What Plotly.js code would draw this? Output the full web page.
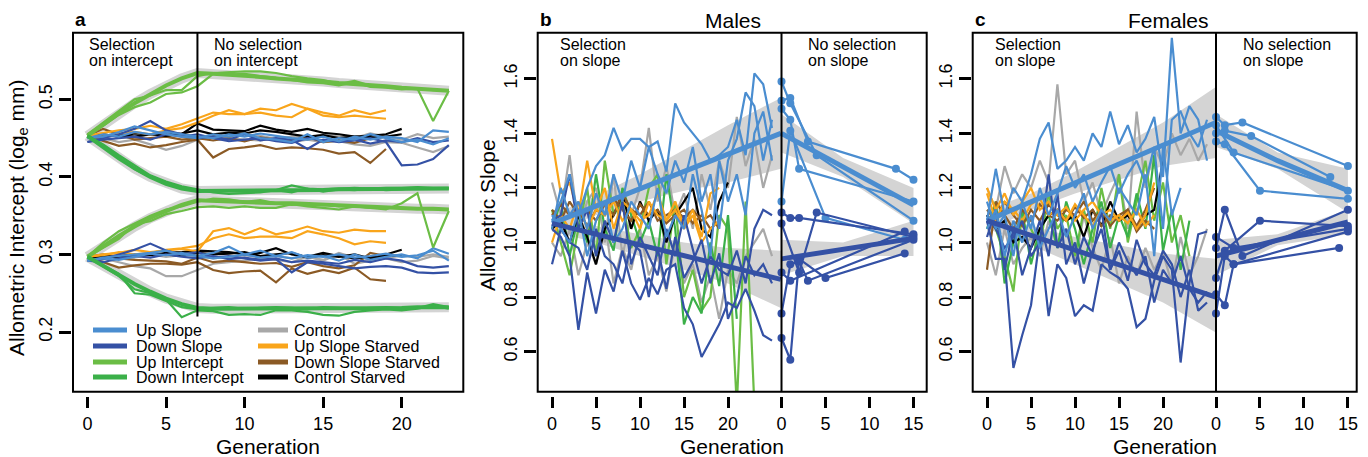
<!DOCTYPE html>
<html><head><meta charset="utf-8">
<script src="https://cdn.plot.ly/plotly-3.0.1.min.js"></script>
<style>html,body{margin:0;padding:0;background:#fff;}#chart{width:1368px;height:457px;}</style>
</head><body><div id="chart"></div>
<script>
// ---------- categories / colours ----------
const seriesNames = ['Up Slope','Down Slope','Up Intercept','Down Intercept','Control','Up Slope Starved','Down Slope Starved','Control Starved'];
const seriesColors = ['#4a8dd0','#3451a5','#6bbd45','#3bb049','#a8a8a8','#f9a51b','#8b5a25','#000000'];
const C = {US:seriesColors[0],DS:seriesColors[1],UI:seriesColors[2],DI:seriesColors[3],CT:seriesColors[4],USS:seriesColors[5],DSS:seriesColors[6],CS:seriesColors[7]};

// ---------- tick labels ----------
const aXTicks = [0,5,10,15,20];
const aYTicks = [0.2,0.3,0.4,0.5];
const aYTickText = ['0.2','0.3','0.4','0.5'];
const selTicks = [0,5,10,15,20];
const relTicks = [0,5,10,15];
const bcYTicks = [0.6,0.8,1.0,1.2,1.4,1.6];
const bcYTickText = ['0.6','0.8','1.0','1.2','1.4','1.6'];

// ---------- panel a : generations ----------
const genA = [0,1,2,3,4,5,6,7,8,9,10,11,12,13,14,15,16,17,18,19,20,21,22,23];

// top group (intercept ~0.45)
const aTopUpFit = [.453,.468,.482,.495,.507,.518,.527,.534,.533,.532,.530,.529,.527,.526,.524,.523,.521,.520,.518,.517,.515,.514,.512,.511];
const aTopUp1   = [.455,.470,.485,.500,.505,.512,.512,.530,.534,.535,.536,.536,.534,.530,.527,.525,.520,.524,.518,.516,.515,.514,.512,.512];
const aTopUp2   = [.455,.466,.480,.490,.496,.507,.509,.517,.533,.532,.533,.530,.528,.525,.522,.521,.518,.522,.516,.515,.513,.514,.472,.511];
const aTopDnFit = [.453,.438,.424,.411,.400,.391,.385,.382,.382,.382,.382,.383,.383,.383,.383,.383,.384,.384,.384,.384,.385,.385,.385,.385];
const aTopDn1   = [.453,.440,.425,.410,.400,.392,.386,.383,.383,.382,.381,.383,.383,.389,.385,.384,.385,.386,.385,.386,.386,.387,.386,.386];
const aTopDn2   = [.453,.442,.428,.415,.402,.394,.388,.384,.380,.378,.379,.380,.383,.380,.385,.381,.384,.383,.385,.383,.384,.386,.385,.385];
const aTopUS1  = [.450,.452,.458,.465,.460,.455,.452,.450,.455,.452,.456,.450,.448,.445,.455,.445,.450,.448,.455,.450,.445,.448,.442,.450];
const aTopUS2  = [.450,.455,.452,.458,.455,.458,.455,.452,.450,.455,.452,.456,.453,.450,.448,.452,.446,.452,.448,.452,.450,.445,.460,.458];
const aTopDS1  = [.445,.450,.455,.462,.472,.460,.455,.450,.452,.448,.455,.447,.450,.448,.436,.448,.445,.447,.450,.445,.415,.416,.423,.441];
const aTopDS2  = [.445,.448,.450,.452,.448,.455,.452,.455,.450,.446,.448,.450,.446,.444,.450,.447,.446,.448,.443,.447,.445,.450,.445,.447];
const aTopCT1  = [.453,.450,.445,.448,.442,.435,.440,.448,.452,.450,.448,.447,.450,.445,.448,.445,.446,.442,.440,.445,.444,.438,.432,.440];
const aTopCT2  = [.453,.455,.452,.450,.455,.452,.456,.451,.454,.452,.455,.453,.449,.452,.450,.455,.452,.450,.456,.452,.448,.455,.450,.452];
const aTopUSS1 = [.453,.457,.460,.462,.466,.462,.468,.475,.483,.481,.481,.488,.486,.494,.488,.483,.479,.486,.481,.486];
const aTopUSS2 = [.453,.452,.456,.458,.455,.460,.463,.470,.479,.486,.481,.483,.479,.477,.488,.479,.477,.479,.477,.475];
const aTopDSS1 = [.453,.447,.440,.443,.438,.441,.445,.448,.425,.436,.438,.441,.436,.438,.437,.435,.430,.432,.418,.436];
const aTopDSS2 = [.453,.462,.455,.448,.450,.452,.448,.450,.447,.450,.446,.451,.448,.447,.452,.445,.447,.444,.450,.452];
const aTopCS1  = [.453,.455,.452,.456,.455,.458,.455,.469,.461,.460,.459,.466,.461,.458,.462,.457,.455,.452,.453,.455,.462];
const aTopCS2  = [.453,.452,.454,.452,.455,.453,.456,.460,.455,.457,.456,.460,.458,.455,.452,.454,.450,.452,.450,.452,.455];

// bottom group (intercept ~0.30)
const aBotUpFit = [.297,.311,.324,.336,.347,.356,.364,.370,.369,.369,.368,.367,.366,.366,.365,.364,.363,.362,.362,.361,.360,.359,.359,.358];
const aBotUp1   = [.297,.308,.320,.339,.343,.352,.356,.361,.362,.360,.362,.360,.360,.365,.362,.360,.358,.362,.360,.358,.366,.379,.309,.356];
const aBotUp2   = [.297,.315,.330,.340,.350,.358,.362,.368,.372,.371,.368,.370,.366,.364,.365,.365,.362,.363,.360,.361,.360,.359,.358,.358];
const aBotDnFit = [.297,.285,.273,.262,.252,.243,.236,.231,.230,.230,.230,.230,.230,.230,.230,.230,.231,.231,.231,.231,.231,.232,.232,.232];
const aBotDn1   = [.297,.284,.272,.255,.250,.242,.219,.228,.227,.222,.223,.222,.228,.228,.226,.222,.221,.226,.228,.229,.228,.230,.234,.230];
const aBotDn2   = [.297,.286,.275,.250,.248,.240,.232,.229,.231,.232,.230,.231,.232,.231,.229,.232,.231,.230,.231,.232,.231,.231,.236,.232];
const aBotUS1  = [.292,.296,.298,.300,.302,.305,.300,.298,.302,.310,.300,.305,.298,.303,.296,.298,.292,.300,.293,.297,.300,.295,.308,.301];
const aBotUS2  = [.292,.295,.293,.297,.301,.299,.302,.298,.295,.297,.300,.296,.298,.295,.299,.297,.300,.296,.298,.301,.297,.299,.305,.292];
const aBotDS1  = [.292,.294,.300,.306,.314,.305,.300,.303,.296,.298,.295,.292,.294,.277,.290,.288,.285,.282,.284,.285,.283,.277,.276,.277];
const aBotDS2  = [.292,.290,.295,.298,.296,.300,.297,.295,.298,.294,.296,.293,.295,.290,.292,.290,.288,.293,.290,.295,.292,.285,.283,.285];
const aBotCT1  = [.297,.295,.290,.285,.282,.272,.272,.280,.288,.290,.292,.295,.293,.290,.297,.292,.300,.288,.292,.295,.290,.292,.298,.295];
const aBotCT2  = [.297,.298,.299,.296,.300,.297,.299,.298,.295,.297,.299,.296,.298,.295,.297,.293,.302,.296,.294,.296,.298,.297,.300,.297];
const aBotUSS1 = [.297,.300,.302,.306,.303,.305,.307,.304,.330,.334,.326,.334,.326,.330,.336,.330,.328,.332,.330,.330];
const aBotUSS2 = [.297,.299,.303,.300,.302,.306,.308,.311,.321,.326,.321,.323,.323,.321,.330,.326,.321,.313,.317,.315];
const aBotDSS1 = [.297,.290,.283,.286,.288,.288,.287,.290,.280,.276,.278,.279,.264,.282,.275,.280,.276,.283,.268,.266];
const aBotDSS2 = [.297,.300,.295,.293,.292,.291,.288,.296,.290,.292,.290,.288,.289,.284,.290,.285,.282,.286,.302,.298];
const aBotCS1  = [.297,.296,.298,.300,.299,.302,.303,.305,.304,.303,.300,.302,.308,.300,.297,.302,.298,.295,.297,.300,.306];
const aBotCS2  = [.297,.298,.296,.299,.301,.300,.298,.302,.300,.301,.303,.298,.300,.302,.296,.299,.297,.300,.295,.298,.299];

// ---------- panel b (males) ----------
const genSel = [0,1,2,3,4,5,6,7,8,9,10,11,12,13,14,15,16,17,18,19,20,21,22,23,24,25];
const bUS1 = [1.08,1.15,1.25,1.10,1.20,1.28,1.32,1.42,1.34,1.38,1.38,1.35,1.37,1.26,1.51,1.44,1.40,1.36,1.30,1.32,1.35,1.45,1.32,1.62,1.58,1.42];
const bUS2 = [1.05,1.20,1.10,1.15,1.05,1.18,1.10,1.25,1.15,1.30,1.20,1.35,1.25,1.18,1.30,1.22,1.35,1.15,1.25,1.05,1.30,1.38,1.55,1.50,1.30,1.45];
const bUS3 = [1.10,1.05,1.00,1.12,0.95,1.08,1.15,1.00,1.05,1.15,1.10,1.05,1.20,1.02,1.10,1.05,1.25,1.12,0.95,1.30,1.15,1.25,1.10,1.40,1.48,1.30];
const bDS1 = [1.05,1.02,0.95,0.68,0.89,0.74,0.90,0.82,0.97,0.85,0.79,0.87,0.81,0.90,0.92,0.76,0.70,0.58,0.64,0.70,0.78,0.76,0.83,0.75,0.66,0.64];
const bDS2 = [1.08,1.10,1.25,1.05,1.12,0.95,1.08,1.00,1.15,0.92,1.02,0.95,0.88,1.05,0.95,1.10,0.98,0.85,0.95,0.90,0.88,0.97,0.85,1.05,1.12,1.10];
const bDS3 = [0.92,1.05,1.00,0.98,0.90,1.05,0.95,0.92,0.85,1.00,0.97,0.80,0.98,0.83,1.02,0.87,0.93,1.01,0.85,0.96,0.72,0.80,0.95,0.88,0.92,0.85];
const bUI1 = [1.12,1.00,0.88,1.05,1.20,0.95,1.30,1.10,1.15,0.98,1.05,1.20,1.25,0.92,1.15,0.80,0.90,0.75,0.80,1.10,1.05,0.40,1.15,0.40];
const bDI1 = [1.05,1.15,0.95,1.10,1.00,1.25,1.05,0.97,1.20,1.10,1.00,1.08,0.95,1.25,1.05,0.70,0.80,0.74,1.00,0.84,1.10,0.72];
const bCT1 = [1.22,1.10,1.32,1.05,1.15,1.20,1.00,1.25,0.95,1.10,1.20,1.42,1.15,1.28,1.10,1.18,1.05,1.25,1.12,1.30,1.20,1.46,1.28,1.38,1.20,1.32];
const bCT2 = [1.00,0.95,1.05,0.88,1.00,0.92,1.08,0.85,0.98,0.90,1.05,0.88,0.95,0.82,1.00,0.85,0.92,0.78,0.88,0.72,0.90,0.85,0.95,1.00,1.05,0.95];
const bUSS1 = [1.38,1.18,1.22,1.10,1.30,1.12,1.20,1.05,1.15,1.12,1.08,1.10,1.18,1.08,1.15,1.06,1.12,1.02,1.18,1.20];
const bUSS2 = [1.00,1.10,1.05,1.15,1.05,1.12,1.10,1.15,1.08,1.12,1.05,1.15,1.10,1.08,1.12,1.05,1.10,1.00,1.05,1.08];
const bDSS1 = [1.12,1.08,1.15,1.10,1.12,1.08,1.14,1.10,1.18,1.12,1.10,1.15,1.08,1.10,1.12,1.09,1.12,1.08,1.10,1.05];
const bDSS2 = [1.10,1.14,1.10,1.12,1.06,1.12,1.10,1.16,1.12,1.08,1.14,1.10,1.12,1.07,1.10,1.12,1.07,1.10,1.05,1.08];
const bCS1 = [1.05,1.08,1.00,1.10,1.02,0.92,1.05,1.10,1.18,1.05,1.15,1.08,1.12,1.00,1.10,1.15,1.20,1.05,1.02,1.15,1.22];
// selection-phase regression (x at 0 and 26) and band
const fitX = [0,26];
const bUpFit = [1.07,1.40];
const bDnFit = [1.07,0.865];
const bandX = [0,5,10,15,20,26];
const bUpHi = [1.10,1.17,1.25,1.34,1.43,1.53];
const bUpLo = [1.04,1.10,1.15,1.19,1.22,1.27];
const bDnHi = [1.10,1.06,1.03,1.00,0.98,0.97];
const bDnLo = [1.04,1.00,0.95,0.90,0.85,0.76];
// relaxed phase
const bRelUS = [
  {g:[0,1,3,13,15], v:[1.52,1.53,1.37,1.27,1.23]},
  {g:[0,1,2,15],    v:[1.49,1.45,1.27,1.15]},
  {g:[0,1,4,15],    v:[1.59,1.51,1.32,1.08]},
  {g:[0,1,5,14],    v:[1.15,1.41,1.09,1.01]}
];
const bRelDS = [
  {g:[0,1,2,15],    v:[1.11,1.09,1.09,1.03]},
  {g:[0,2,4,15],    v:[1.07,0.89,1.11,1.02]},
  {g:[0,1,2,3,15],  v:[0.74,0.92,0.93,0.86,1.01]},
  {g:[0,1,2,5,14],  v:[0.65,0.57,0.94,0.87,0.96]},
  {g:[0,1,14],      v:[0.89,0.86,1.04]}
];
const relBandX = [0,7,15];
const bRelUpFit = [1.40,1.277,1.137];
const bRelUpHi = [1.47,1.31,1.20];
const bRelUpLo = [1.33,1.24,1.07];
const bRelDnFit = [0.94,0.975,1.015];
const bRelDnHi = [1.01,1.00,1.08];
const bRelDnLo = [0.88,0.95,0.95];

// ---------- panel c (females) ----------
const cUS1 = [1.08,1.27,1.10,1.20,1.15,1.25,1.38,1.44,1.27,1.30,1.35,1.30,1.40,1.35,1.48,1.36,1.43,1.33,1.38,1.46,1.24,1.75,1.40,1.50,1.45,1.30];
const cUS2 = [1.15,1.05,1.10,0.95,1.15,1.05,1.20,1.10,1.18,1.28,1.20,1.25,1.15,1.22,1.28,1.18,1.25,1.30,1.22,1.35,1.05,1.45,1.48,1.40,1.35,1.45];
const cUS3 = [1.05,1.12,0.95,1.08,1.00,1.10,0.98,1.05,1.12,1.02,1.10,1.18,1.05,1.12,1.08,1.20,1.15,1.10,1.25,0.95,1.35,1.10,1.20];
const cDS1 = [1.08,0.94,0.94,0.54,0.66,0.77,1.02,0.73,0.92,0.87,0.73,0.77,0.75,0.92,0.89,0.87,0.83,0.69,0.72,0.86,0.95,0.90,0.56,0.85,1.03,1.04];
const cDS2 = [1.10,1.05,0.98,1.02,1.08,0.95,1.00,1.25,0.98,1.05,0.92,1.02,0.95,1.12,0.90,1.00,0.93,0.88,0.95,0.78,0.90,0.85,0.95,0.83,0.78,0.82];
const cDS3 = [1.02,1.12,0.90,1.05,0.88,0.98,1.08,0.95,1.18,0.92,1.00,0.85,0.97,1.05,0.90,0.97,0.86,1.01,0.92,0.88,0.97,0.92,0.80,0.90,0.75,0.78];
const cUI1 = [1.10,1.05,0.95,0.82,1.12,1.05,0.98,1.18,1.05,1.10,0.95,1.12,1.00,1.20,1.05,1.25,1.00,1.15,1.30,1.08,1.22,1.00,1.10,0.95];
const cDI1 = [1.05,1.15,0.85,1.00,1.12,0.92,1.05,1.10,0.98,1.15,1.05,0.92,1.05,1.15,0.98,1.10,1.02,1.18,1.05,1.32,0.97,1.12,0.90,1.08];
const cCT1 = [1.20,1.12,1.28,1.18,1.25,1.20,1.30,1.22,1.58,1.25,1.30,1.15,1.22,1.10,1.18,1.25,1.05,1.48,1.20,1.35,1.28,1.40,1.32,1.38,1.30,1.36];
const cCT2 = [1.00,0.88,1.05,0.92,0.98,1.02,0.95,1.08,1.00,1.05,0.93,1.10,0.98,0.90,1.02,0.85,0.95,0.88,0.98,0.90,0.96,0.85,1.02,0.88,0.95,1.05];
const cUSS1 = [1.20,1.12,1.18,1.10,1.15,1.20,1.12,1.15,1.10,1.13,1.08,1.12,1.15,1.10,1.12,1.08,1.11,1.05,1.10,1.22];
const cUSS2 = [1.18,1.08,1.15,1.12,1.08,1.14,1.16,1.10,1.12,1.08,1.14,1.10,1.06,1.12,1.08,1.10,1.07,1.12,1.06,1.10];
const cDSS1 = [0.90,1.15,1.10,1.05,1.12,1.08,1.14,1.10,1.08,1.12,1.10,1.15,1.08,1.12,1.06,1.10,1.12,1.06,1.12,1.20];
const cDSS2 = [1.12,1.08,1.15,1.10,1.06,1.12,1.08,1.14,1.10,1.08,1.13,1.09,1.12,1.06,1.10,1.08,1.12,1.04,1.08,1.05];
const cCS1 = [1.10,1.05,1.08,1.00,1.02,0.98,1.05,1.10,1.12,1.08,1.10,1.02,1.12,1.06,1.15,1.08,1.10,1.05,1.10,1.12,1.30];
const cUpFit = [1.08,1.44];
const cDnFit = [1.08,0.80];
const cUpHi = [1.12,1.18,1.26,1.35,1.44,1.57];
const cUpLo = [1.04,1.12,1.18,1.23,1.28,1.31];
const cDnHi = [1.11,1.06,1.02,0.99,0.96,0.94];
const cDnLo = [1.05,0.99,0.92,0.85,0.78,0.67];
const cRelUS = [
  {g:[0,1,3,15], v:[1.46,1.43,1.44,1.28]},
  {g:[0,1,4,13], v:[1.40,1.41,1.39,1.24]},
  {g:[0,1,5,15], v:[1.37,1.36,1.19,1.16]},
  {g:[0,2,15],   v:[1.43,1.33,1.19]}
];
const cRelDS = [
  {g:[0,1,3,15], v:[0.98,1.12,0.95,1.12]},
  {g:[0,1,5,15], v:[0.87,0.97,1.08,1.06]},
  {g:[0,1,2,14], v:[0.81,0.77,0.92,0.98]},
  {g:[0,1,2,15], v:[0.74,0.95,0.92,1.04]},
  {g:[0,2,15],   v:[1.02,0.98,1.05]}
];
const cRelUpFit = [1.41,1.30,1.19];
const cRelUpHi = [1.47,1.33,1.27];
const cRelUpLo = [1.35,1.27,1.11];
const cRelDnFit = [0.95,1.01,1.075];
const cRelDnHi = [1.01,1.03,1.12];
const cRelDnLo = [0.88,0.99,1.03];

// ---------- helpers ----------
const W = 1368, H = 457;
const px = x => x / W, py = y => 1 - y / H;
const FONT = 'Liberation Sans, Arial, Helvetica, sans-serif';
const BAND = '#d4d4d4';
const traces = [];
function ln(xa, ya, x, y, color, width, extra) {
  traces.push(Object.assign({type:'scatter', mode:'lines', x:x, y:y, xaxis:xa, yaxis:ya,
    line:{color:color, width:width}, hoverinfo:'skip', showlegend:false}, extra || {}));
}
function band(xa, ya, x, hi, lo) {
  traces.push({type:'scatter', mode:'lines', x:x.concat(x.slice().reverse()), y:hi.concat(lo.slice().reverse()),
    xaxis:xa, yaxis:ya, fill:'toself', fillcolor:BAND, line:{width:0, color:BAND}, hoverinfo:'skip', showlegend:false});
}
const gx = arr => genA.slice(0, arr.length);
const sx = arr => genSel.slice(0, arr.length);

// ---------- panel a traces ----------
[aTopUpFit, aTopDnFit, aBotUpFit, aBotDnFit].forEach(f => ln('x','y', genA, f, BAND, 10));
[[aTopCT1,C.CT],[aTopCT2,C.CT],[aBotCT1,C.CT],[aBotCT2,C.CT],
 [aTopDSS1,C.DSS],[aTopDSS2,C.DSS],[aBotDSS1,C.DSS],[aBotDSS2,C.DSS],
 [aTopCS1,C.CS],[aTopCS2,C.CS],[aBotCS1,C.CS],[aBotCS2,C.CS],
 [aTopUSS1,C.USS],[aTopUSS2,C.USS],[aBotUSS1,C.USS],[aBotUSS2,C.USS],
 [aTopDS1,C.DS],[aTopDS2,C.DS],[aBotDS1,C.DS],[aBotDS2,C.DS],
 [aTopUS1,C.US],[aTopUS2,C.US],[aBotUS1,C.US],[aBotUS2,C.US],
 [aTopUp1,C.UI],[aTopUp2,C.UI],[aBotUp1,C.UI],[aBotUp2,C.UI],
 [aTopDn1,C.DI],[aTopDn2,C.DI],[aBotDn1,C.DI],[aBotDn2,C.DI]
].forEach(([d,c]) => ln('x','y', gx(d), d, c, 2.2));
[[aTopUpFit,C.UI],[aBotUpFit,C.UI],[aTopDnFit,C.DI],[aBotDnFit,C.DI]].forEach(([d,c]) => ln('x','y', genA, d, c, 4));

// ---------- panels b & c ----------
function slopePanel(xs, xr, ya, d) {
  band(xs, ya, bandX, d.upHi, d.upLo);
  band(xs, ya, bandX, d.dnHi, d.dnLo);
  band(xr, ya, relBandX, d.rUpHi, d.rUpLo);
  band(xr, ya, relBandX, d.rDnHi, d.rDnLo);
  d.sel.forEach(([arr,c]) => ln(xs, ya, sx(arr), arr, c, 2.2));
  ln(xs, ya, fitX, d.upFit, C.US, 5);
  ln(xs, ya, fitX, d.dnFit, C.DS, 5);
  d.relUS.forEach(r => ln(xr, ya, r.g, r.v, C.US, 2.2, {mode:'lines+markers', marker:{size:8, color:C.US}, cliponaxis:false}));
  d.relDS.forEach(r => ln(xr, ya, r.g, r.v, C.DS, 2.2, {mode:'lines+markers', marker:{size:8, color:C.DS}, cliponaxis:false}));
  ln(xr, ya, relBandX, d.rUpFit, C.US, 5);
  ln(xr, ya, relBandX, d.rDnFit, C.DS, 5);
}
slopePanel('x2','x4','y2', {
  upHi:bUpHi, upLo:bUpLo, dnHi:bDnHi, dnLo:bDnLo,
  rUpHi:bRelUpHi, rUpLo:bRelUpLo, rDnHi:bRelDnHi, rDnLo:bRelDnLo,
  sel:[[bCT1,C.CT],[bCT2,C.CT],[bUI1,C.UI],[bDI1,C.DI],[bCS1,C.CS],[bDSS1,C.DSS],[bDSS2,C.DSS],[bUSS1,C.USS],[bUSS2,C.USS],
       [bDS1,C.DS],[bDS2,C.DS],[bDS3,C.DS],[bUS1,C.US],[bUS2,C.US],[bUS3,C.US]],
  upFit:bUpFit, dnFit:bDnFit, relUS:bRelUS, relDS:bRelDS, rUpFit:bRelUpFit, rDnFit:bRelDnFit
});
slopePanel('x3','x5','y3', {
  upHi:cUpHi, upLo:cUpLo, dnHi:cDnHi, dnLo:cDnLo,
  rUpHi:cRelUpHi, rUpLo:cRelUpLo, rDnHi:cRelDnHi, rDnLo:cRelDnLo,
  sel:[[cCT1,C.CT],[cCT2,C.CT],[cUI1,C.UI],[cDI1,C.DI],[cCS1,C.CS],[cDSS1,C.DSS],[cDSS2,C.DSS],[cUSS1,C.USS],[cUSS2,C.USS],
       [cDS1,C.DS],[cDS2,C.DS],[cDS3,C.DS],[cUS1,C.US],[cUS2,C.US],[cUS3,C.US]],
  upFit:cUpFit, dnFit:cDnFit, relUS:cRelUS, relDS:cRelDS, rUpFit:cRelUpFit, rDnFit:cRelDnFit
});

// ---------- axes ----------
const TICKF = {family:FONT, size:18, color:'#000'};
const xPos = py(396);
function xax(domL, domR, range, vals, text) {
  return {domain:[px(domL), px(domR)], range:range, anchor:'free', position:xPos, showgrid:false, zeroline:false,
    showline:false, ticks:'outside', ticklen:11, tickwidth:3, tickcolor:'#000', tickvals:vals, ticktext:text,
    tickfont:TICKF, fixedrange:true};
}
function yax(pos, range, vals, text) {
  return {domain:[py(391.7), py(32.7)], range:range, anchor:'free', position:px(pos), showgrid:false, zeroline:false,
    showline:false, ticks:'outside', ticklen:12, tickwidth:3, tickcolor:'#000', tickvals:vals, ticktext:text,
    tickangle:-90, tickfont:TICKF, fixedrange:true};
}
const bcRange = [0.453, 1.769];
const layout = {
  width:W, height:H, margin:{l:0,r:0,t:0,b:0}, paper_bgcolor:'#fff', plot_bgcolor:'rgba(0,0,0,0)',
  font:{family:FONT, color:'#000'}, showlegend:false,
  xaxis:  xax(73, 463.3, [-0.92, 23.92], aXTicks, aXTicks.map(String)),
  yaxis:  yax(71, [0.123, 0.586], aYTicks, aYTickText),
  xaxis2: xax(537.7, 781.5, [-1.625, 26.08], selTicks, selTicks.map(String)),
  xaxis4: xax(781.5, 926.7, [0, 16.5], relTicks, relTicks.map(String)),
  yaxis2: yax(536, bcRange, bcYTicks, bcYTickText),
  xaxis3: xax(972.7, 1216, [-1.625, 26.02], selTicks, selTicks.map(String)),
  xaxis5: xax(1216, 1356.7, [0, 16.0], relTicks, relTicks.map(String)),
  yaxis3: yax(971, bcRange, bcYTicks, bcYTickText),
  shapes: [], annotations: []
};
// boxes
[[73,463.3],[537.7,926.7],[972.7,1356.7]].forEach(([l,r]) => layout.shapes.push(
  {type:'rect', xref:'paper', yref:'paper', x0:px(l), x1:px(r), y0:py(391.7), y1:py(32.7), line:{color:'#000', width:2}}));
// phase separators
layout.shapes.push({type:'line', xref:'x', yref:'y', x0:7, x1:7, y0:0.22, y1:0.586, line:{color:'#000', width:2}});
[781.5, 1216].forEach(xp => layout.shapes.push(
  {type:'line', xref:'paper', yref:'paper', x0:px(xp), x1:px(xp), y0:py(391.7), y1:py(32.7), line:{color:'#000', width:2}}));

function txt(x, y, t, size, opts) {
  layout.annotations.push(Object.assign({xref:'paper', yref:'paper', x:px(x), y:py(y), text:t, showarrow:false,
    xanchor:'left', yanchor:'middle', font:{family:FONT, size:size, color:'#000'}}, opts || {}));
}
// panel letters & titles
txt(73, 19, '<b>a</b>', 19);
txt(538, 19, '<b>b</b>', 19);
txt(973, 19, '<b>c</b>', 19);
txt(733, 20, 'Males', 21, {xanchor:'center'});
txt(1168, 20, 'Females', 21, {xanchor:'center'});
// phase labels
const phaseLabels = [[87,'Selection','on intercept'],[212,'No selection','on intercept'],
  [558,'Selection','on slope'],[806,'No selection','on slope'],[993,'Selection','on slope'],[1241,'No selection','on slope']];
phaseLabels.forEach(([x,l1,l2]) => { txt(x, 45, l1, 16); txt(x, 61, l2, 16); });
// axis titles
txt(268, 446, 'Generation', 21, {xanchor:'center'});
txt(732, 446, 'Generation', 21, {xanchor:'center'});
txt(1165, 446, 'Generation', 21, {xanchor:'center'});
txt(18, 218, 'Allometric Intercept (log<sub>e</sub> mm)', 21, {xanchor:'center', textangle:-90});
txt(487, 215, 'Allometric Slope', 21, {xanchor:'center', textangle:-90});
// legend (two columns)
const legCols = [[93,127,134],[258,288,292]];
const legRows = [330,346,362,377];
const legOrder = [[0,0],[1,0],[2,0],[3,0],[4,1],[5,1],[6,1],[7,1]];
legOrder.forEach(([i,col], k) => {
  const row = legRows[k % 4], [l0,l1,tx] = legCols[col];
  layout.shapes.push({type:'line', xref:'paper', yref:'paper', x0:px(l0), x1:px(l1), y0:py(row), y1:py(row), line:{color:seriesColors[i], width:5}});
  txt(tx, row, seriesNames[i], 16);
});

Plotly.newPlot('chart', traces, layout, {staticPlot:true, displayModeBar:false});
</script>
</body></html>
